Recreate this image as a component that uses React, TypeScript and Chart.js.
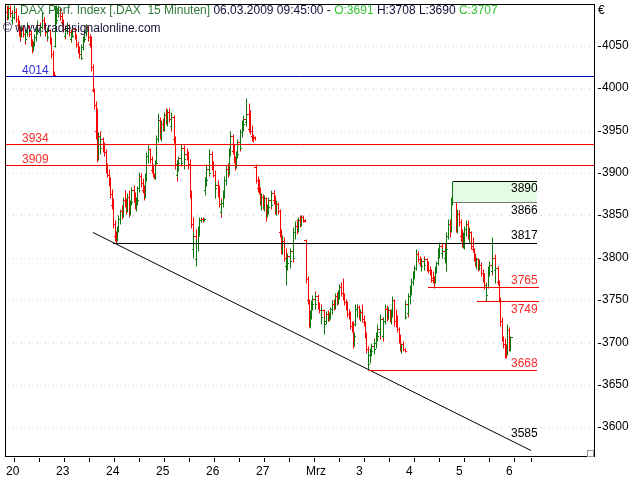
import React, { useEffect, useRef } from 'react';
import { Chart, registerables } from 'chart.js';

Chart.register(...registerables);

// ---------------- data ----------------
const dayLabels = ['20', '23', '24', '25', '26', '27', 'Mrz', '3', '4', '5', '6'];
const barsPerDay = 34;
const midDayOffset = 11;

// 15-minute bars: [open, high, low, close]
const feb20: number[][] = [
  [4080, 4105, 4075, 4090], [4090, 4098, 4080, 4085], [4085, 4105, 4082, 4095], [4095, 4100, 4084, 4088],
  [4088, 4092, 4076, 4080], [4080, 4090, 4076, 4084], [4084, 4100, 4082, 4090], [4090, 4094, 4078, 4082],
  [4082, 4086, 4070, 4075], [4075, 4080, 4062, 4068], [4068, 4072, 4056, 4062], [4062, 4075, 4060, 4070],
  [4070, 4074, 4060, 4064], [4064, 4068, 4052, 4058], [4058, 4070, 4055, 4066], [4066, 4078, 4062, 4072],
  [4072, 4075, 4060, 4064], [4064, 4068, 4050, 4055], [4055, 4058, 4042, 4048], [4048, 4056, 4044, 4052],
  [4052, 4064, 4050, 4060], [4060, 4072, 4056, 4068], [4068, 4080, 4064, 4074], [4074, 4078, 4062, 4066],
  [4066, 4076, 4063, 4072], [4072, 4090, 4070, 4080], [4080, 4084, 4070, 4074], [4074, 4078, 4062, 4066],
  [4066, 4070, 4056, 4060], [4060, 4072, 4058, 4068], [4068, 4070, 4052, 4058], [4058, 4060, 4036, 4040],
  [4040, 4045, 4014, 4016], [4016, 4020, 4014, 4015],
];
const feb23: number[][] = [
  [4050, 4098, 4048, 4080], [4080, 4100, 4076, 4088], [4088, 4106, 4084, 4092], [4092, 4096, 4080, 4085],
  [4085, 4090, 4074, 4078], [4078, 4082, 4066, 4070], [4070, 4074, 4058, 4062], [4062, 4072, 4060, 4068],
  [4068, 4078, 4064, 4074], [4074, 4076, 4062, 4066], [4066, 4070, 4054, 4058], [4058, 4066, 4055, 4062],
  [4062, 4074, 4060, 4070], [4070, 4072, 4058, 4062], [4062, 4064, 4048, 4052], [4052, 4056, 4042, 4046],
  [4046, 4050, 4036, 4040], [4040, 4048, 4034, 4036], [4036, 4052, 4034, 4048], [4048, 4062, 4045, 4058],
  [4058, 4070, 4054, 4066], [4066, 4076, 4062, 4072], [4072, 4074, 4056, 4060], [4060, 4064, 4048, 4052],
  [4052, 4062, 4020, 4025], [4025, 4028, 3995, 3998], [3998, 4000, 3975, 3980], [3980, 3985, 3940, 3950],
  [3950, 3977, 3913, 3920], [3922, 3948, 3915, 3944], [3944, 3950, 3925, 3930], [3930, 3945, 3922, 3940],
  [3940, 3942, 3925, 3934], [3934, 3936, 3920, 3925],
];
const feb24: number[][] = [
  [3925, 3928, 3900, 3905], [3905, 3912, 3895, 3898], [3898, 3905, 3885, 3888], [3888, 3895, 3870, 3875],
  [3875, 3881, 3858, 3862], [3862, 3870, 3835, 3840], [3840, 3845, 3820, 3826], [3826, 3832, 3817, 3822],
  [3822, 3838, 3820, 3835], [3835, 3850, 3830, 3846], [3846, 3858, 3840, 3855], [3855, 3862, 3846, 3850],
  [3850, 3872, 3848, 3868], [3868, 3880, 3860, 3862], [3862, 3870, 3852, 3856], [3856, 3876, 3854, 3872],
  [3872, 3880, 3848, 3852], [3852, 3868, 3850, 3866], [3866, 3884, 3862, 3880], [3880, 3886, 3866, 3870],
  [3870, 3878, 3858, 3862], [3862, 3872, 3855, 3868], [3868, 3885, 3862, 3882], [3882, 3901, 3878, 3896],
  [3896, 3900, 3884, 3888], [3888, 3894, 3876, 3880], [3880, 3886, 3868, 3872], [3872, 3900, 3870, 3896],
  [3896, 3925, 3890, 3920], [3920, 3933, 3912, 3928], [3928, 3930, 3912, 3916], [3916, 3920, 3900, 3904],
  [3904, 3910, 3895, 3898], [3898, 3900, 3893, 3895],
];
const feb25: number[][] = [
  [3895, 3915, 3893, 3912], [3912, 3945, 3910, 3940], [3940, 3971, 3936, 3962], [3962, 3966, 3940, 3946],
  [3946, 3962, 3938, 3958], [3958, 3965, 3950, 3952], [3952, 3972, 3950, 3968], [3968, 3976, 3958, 3962],
  [3962, 3975, 3955, 3972], [3972, 3976, 3960, 3964], [3964, 3968, 3950, 3955], [3955, 3972, 3952, 3966],
  [3966, 3968, 3935, 3940], [3940, 3944, 3905, 3910], [3910, 3915, 3890, 3898], [3898, 3915, 3895, 3912],
  [3912, 3920, 3902, 3918], [3918, 3925, 3908, 3912], [3912, 3934, 3910, 3930], [3930, 3933, 3912, 3916],
  [3916, 3925, 3905, 3922], [3922, 3930, 3915, 3918], [3918, 3926, 3905, 3910], [3910, 3917, 3870, 3875],
  [3875, 3880, 3835, 3840], [3840, 3848, 3804, 3810], [3810, 3832, 3800, 3826], [3826, 3834, 3792, 3798],
  [3798, 3822, 3790, 3818], [3818, 3837, 3808, 3832], [3832, 3848, 3826, 3845], [3845, 3848, 3842, 3846],
  [3846, 3848, 3842, 3845], [3845, 3847, 3843, 3846],
];
const feb26: number[][] = [
  [3880, 3895, 3874, 3892], [3892, 3910, 3885, 3905], [3905, 3915, 3896, 3900], [3900, 3928, 3898, 3922],
  [3922, 3926, 3904, 3908], [3908, 3914, 3895, 3898], [3898, 3903, 3878, 3882], [3882, 3890, 3870, 3886],
  [3886, 3892, 3872, 3876], [3876, 3886, 3860, 3864], [3864, 3870, 3848, 3854], [3854, 3868, 3852, 3865],
  [3865, 3880, 3860, 3876], [3876, 3896, 3870, 3892], [3892, 3909, 3886, 3905], [3905, 3912, 3895, 3900],
  [3900, 3930, 3898, 3926], [3926, 3949, 3920, 3944], [3944, 3946, 3922, 3926], [3926, 3934, 3912, 3916],
  [3916, 3920, 3903, 3908], [3908, 3926, 3906, 3922], [3922, 3940, 3918, 3936], [3936, 3948, 3926, 3930],
  [3930, 3952, 3928, 3948], [3948, 3962, 3942, 3958], [3958, 3968, 3950, 3964], [3964, 3975, 3955, 3960],
  [3960, 3988, 3956, 3970], [3970, 3982, 3948, 3952], [3952, 3974, 3946, 3950], [3950, 3956, 3938, 3944],
  [3944, 3946, 3936, 3942], [3942, 3944, 3939, 3941],
];
const feb27: number[][] = [
  [3907, 3910, 3888, 3892], [3892, 3896, 3878, 3882], [3882, 3893, 3875, 3878], [3878, 3884, 3862, 3866],
  [3866, 3876, 3856, 3872], [3872, 3875, 3858, 3860], [3860, 3874, 3855, 3870], [3870, 3872, 3843, 3850],
  [3850, 3864, 3848, 3860], [3860, 3872, 3852, 3868], [3868, 3874, 3858, 3862], [3862, 3880, 3860, 3876],
  [3876, 3880, 3864, 3868], [3868, 3874, 3852, 3856], [3856, 3868, 3850, 3864], [3864, 3866, 3852, 3855],
  [3855, 3857, 3825, 3830], [3830, 3834, 3805, 3812], [3812, 3827, 3805, 3820], [3820, 3824, 3796, 3800],
  [3800, 3812, 3784, 3790], [3790, 3800, 3768, 3794], [3794, 3806, 3786, 3802], [3802, 3808, 3790, 3796],
  [3796, 3812, 3788, 3808], [3808, 3816, 3795, 3800], [3800, 3836, 3798, 3830], [3830, 3843, 3822, 3838],
  [3838, 3846, 3828, 3834], [3834, 3848, 3830, 3845], [3845, 3850, 3836, 3840], [3840, 3850, 3838, 3848],
  [3848, 3851, 3842, 3844], [3844, 3846, 3842, 3843],
];
const mar02: number[][] = [
  [3821, 3822, 3770, 3775], [3775, 3778, 3745, 3750], [3750, 3752, 3719, 3726], [3726, 3738, 3717, 3734],
  [3734, 3750, 3728, 3746], [3746, 3756, 3738, 3752], [3752, 3761, 3742, 3745], [3745, 3758, 3740, 3755],
  [3755, 3757, 3740, 3744], [3744, 3748, 3735, 3738], [3738, 3745, 3725, 3730], [3730, 3742, 3722, 3738],
  [3738, 3740, 3718, 3722], [3722, 3730, 3710, 3726], [3726, 3737, 3722, 3734], [3734, 3738, 3726, 3730],
  [3730, 3736, 3725, 3733], [3733, 3742, 3728, 3740], [3740, 3750, 3734, 3746], [3746, 3752, 3738, 3742],
  [3742, 3758, 3740, 3755], [3755, 3760, 3744, 3748], [3748, 3762, 3746, 3758], [3758, 3769, 3752, 3765],
  [3765, 3772, 3755, 3758], [3758, 3776, 3750, 3754], [3754, 3758, 3744, 3748], [3748, 3752, 3738, 3742],
  [3742, 3749, 3730, 3734], [3734, 3740, 3728, 3732], [3732, 3737, 3716, 3720], [3720, 3726, 3712, 3716],
  [3716, 3725, 3694, 3700], [3700, 3712, 3696, 3708],
];
const mar03: number[][] = [
  [3722, 3745, 3720, 3740], [3740, 3746, 3730, 3742], [3742, 3744, 3728, 3732], [3732, 3740, 3726, 3736],
  [3736, 3746, 3724, 3728], [3728, 3732, 3720, 3724], [3724, 3726, 3705, 3708], [3708, 3712, 3688, 3692],
  [3692, 3696, 3669, 3675], [3675, 3690, 3668, 3686], [3686, 3694, 3676, 3690], [3690, 3700, 3684, 3696],
  [3696, 3705, 3688, 3692], [3692, 3704, 3687, 3700], [3700, 3712, 3694, 3708], [3708, 3722, 3702, 3716],
  [3716, 3720, 3704, 3712], [3712, 3734, 3708, 3728], [3728, 3730, 3702, 3708], [3708, 3730, 3705, 3726],
  [3726, 3745, 3722, 3740], [3740, 3744, 3726, 3732], [3732, 3742, 3728, 3738], [3738, 3740, 3724, 3728],
  [3728, 3740, 3722, 3736], [3736, 3755, 3730, 3750], [3750, 3752, 3720, 3726], [3726, 3740, 3718, 3722],
  [3722, 3732, 3712, 3716], [3716, 3718, 3700, 3704], [3704, 3710, 3690, 3694], [3694, 3700, 3688, 3698],
  [3698, 3702, 3690, 3692], [3692, 3694, 3689, 3690],
];
const mar04: number[][] = [
  [3730, 3750, 3728, 3745], [3745, 3752, 3730, 3735], [3735, 3758, 3732, 3755], [3755, 3768, 3745, 3762],
  [3762, 3776, 3756, 3772], [3772, 3785, 3768, 3780], [3780, 3792, 3775, 3788], [3788, 3810, 3786, 3805],
  [3805, 3808, 3795, 3798], [3798, 3802, 3790, 3794], [3794, 3800, 3786, 3790], [3790, 3798, 3785, 3796],
  [3796, 3802, 3788, 3792], [3792, 3800, 3786, 3798], [3798, 3800, 3784, 3788], [3788, 3796, 3782, 3786],
  [3786, 3790, 3780, 3782], [3782, 3787, 3772, 3776], [3776, 3784, 3770, 3774], [3774, 3778, 3764, 3772],
  [3772, 3790, 3770, 3788], [3788, 3796, 3782, 3794], [3794, 3812, 3792, 3808], [3808, 3819, 3800, 3814],
  [3814, 3817, 3804, 3806], [3806, 3812, 3800, 3808], [3808, 3818, 3796, 3800], [3800, 3812, 3794, 3810],
  [3810, 3831, 3784, 3826], [3826, 3846, 3822, 3840], [3840, 3846, 3825, 3832], [3832, 3872, 3830, 3868],
  [3868, 3891, 3862, 3884], [3884, 3889, 3870, 3878],
];
const mar05: number[][] = [
  [3866, 3866, 3831, 3836], [3836, 3857, 3829, 3852], [3852, 3856, 3838, 3842], [3842, 3846, 3820, 3826],
  [3826, 3834, 3813, 3818], [3818, 3830, 3812, 3828], [3828, 3838, 3810, 3834], [3834, 3845, 3826, 3840],
  [3840, 3845, 3822, 3826], [3826, 3836, 3817, 3830], [3830, 3832, 3810, 3814], [3814, 3825, 3807, 3810],
  [3810, 3812, 3796, 3800], [3800, 3806, 3790, 3794], [3794, 3801, 3787, 3798], [3798, 3800, 3784, 3788],
  [3788, 3798, 3786, 3792], [3792, 3795, 3778, 3782], [3782, 3787, 3772, 3776], [3776, 3782, 3763, 3768],
  [3768, 3772, 3751, 3756], [3756, 3770, 3749, 3766], [3766, 3790, 3764, 3786], [3786, 3796, 3778, 3792],
  [3792, 3800, 3780, 3784], [3784, 3824, 3782, 3800], [3800, 3804, 3782, 3786], [3786, 3792, 3770, 3788],
  [3788, 3790, 3768, 3772], [3772, 3774, 3748, 3752], [3752, 3754, 3720, 3726], [3726, 3730, 3702, 3706],
  [3706, 3708, 3694, 3698], [3698, 3705, 3682, 3690],
];
const mar06: number[][] = [
  [3695, 3698, 3682, 3688], [3688, 3722, 3686, 3715], [3715, 3718, 3690, 3691], [3691, 3708, 3690, 3707],
];

// horizontal levels
const fullWidthLevels = [4014, 3934, 3909];
const zoneLevels = [3890, 3866];
const partialLevels = [3817, 3765, 3749, 3668];
const partialFrom = [73, 287, 320, 247];
const partialTo = [361, 362, 362, 361];
const zoneFrom = 304;
const zoneTo = 361;
const trendX = [59, 357];
const trendY = [3831, 3573];
const trendLabel = 3585;
const yTickValues = [3600, 3650, 3700, 3750, 3800, 3850, 3900, 3950, 4000, 4050];

const titleParts = ['DAX Perf. Index [.DAX  15 Minuten]', ' 06.03.2009 09:45:00', ' - ', 'O:3691', ' H:3708 L:3690 ', 'C:3707'];
const copyright = '\u00A9 www.tradesignalonline.com';

// ---------------- styling ----------------
const GREEN = '#0a780a';
const RED = '#ff0000';
const FONT = '"Liberation Sans", Arial, sans-serif';
const X_MIN = -0.5;
const X_MAX = 399.5;

export default function App() {
  const ref = useRef<HTMLCanvasElement | null>(null);

  useEffect(() => {
    const canvas = ref.current;
    if (!canvas) return;

    const bars = [feb20, feb23, feb24, feb25, feb26, feb27, mar02, mar03, mar04, mar05, mar06].flat();
    const isUp = bars.map((b) => b[3] >= b[0]);
    const colors = isUp.map((u) => (u ? GREEN : RED));
    const upData = bars.map((b, i) => ({ x: i, y: isUp[i] ? [b[2], b[1]] : null }));
    const downData = bars.map((b, i) => ({ x: i, y: isUp[i] ? null : [b[2], b[1]] }));
    const openData = bars.map((b, i) => ({ x: i - 0.5, y: b[0] }));
    const closeData = bars.map((b, i) => ({ x: i + 0.5, y: b[3] }));

    const xTicks: number[] = [];
    const xTickText: Record<number, string> = {};
    dayLabels.forEach((lab, d) => {
      const v = d * barsPerDay;
      xTicks.push(v, v + midDayOffset);
      xTickText[v] = lab;
    });

    const line = (pts: { x: number; y: number }[], color: string, extra: any = {}) => ({
      type: 'line' as const,
      data: pts,
      borderColor: color,
      borderWidth: 1,
      pointRadius: 0,
      fill: false,
      tension: 0,
      order: 0,
      ...extra,
    });

    const levelColors: Record<number, string> = { 4014: '#0000c0', 3934: RED, 3909: RED };
    const partialColors = ['#000000', RED, RED, RED];

    const datasets: any[] = [];
    fullWidthLevels.forEach((v) => {
      datasets.push(line([{ x: X_MIN, y: v }, { x: X_MAX, y: v }], levelColors[v]));
    });
    datasets.push(
      line([{ x: zoneFrom, y: zoneLevels[0] }, { x: zoneTo, y: zoneLevels[0] }], '#000000', {
        fill: '+1',
        backgroundColor: '#e4fbe4',
      })
    );
    datasets.push(line([{ x: zoneFrom, y: zoneLevels[1] }, { x: zoneTo, y: zoneLevels[1] }], '#000000'));
    partialLevels.forEach((v, k) => {
      datasets.push(line([{ x: partialFrom[k], y: v }, { x: partialTo[k], y: v }], partialColors[k]));
    });
    datasets.push(line([{ x: trendX[0], y: trendY[0] }, { x: trendX[1], y: trendY[1] }], '#000000'));

    const tickDs = (data: any[]) => ({
      type: 'scatter' as const,
      data,
      pointStyle: 'line',
      pointRadius: 1,
      pointBorderWidth: 1,
      pointBorderColor: colors,
      pointBackgroundColor: colors,
      showLine: false,
      order: 5,
    });
    datasets.push(tickDs(openData));
    datasets.push(tickDs(closeData));
    const barDs = (data: any[], color: string) => ({
      type: 'bar' as const,
      data,
      backgroundColor: color,
      borderWidth: 0,
      barThickness: 1,
      inflateAmount: 0,
      order: 10,
    });
    datasets.push(barDs(upData, GREEN));
    datasets.push(barDs(downData, RED));

    const labelDefs = [
      { text: '4014', value: 4014, side: 'left', dy: -2, color: '#3030e0' },
      { text: '3934', value: 3934, side: 'left', dy: -2, color: '#ff2a2a' },
      { text: '3909', value: 3909, side: 'left', dy: -2, color: '#ff2a2a' },
      { text: '3890', value: 3890, side: 'right', dy: 11, color: '#000000' },
      { text: '3866', value: 3866, side: 'right', dy: 12, color: '#000000' },
      { text: '3817', value: 3817, side: 'right', dy: -4, color: '#000000' },
      { text: '3765', value: 3765, side: 'right', dy: -3, color: '#ff2a2a' },
      { text: '3749', value: 3749, side: 'right', dy: 12, color: '#ff2a2a' },
      { text: '3668', value: 3668, side: 'right', dy: -3, color: '#ff2a2a' },
      { text: String(trendLabel), value: trendLabel, side: 'right', dy: -3, color: '#000000' },
    ];
    const titleColors = ['#2f7a3a', '#10103a', '#10103a', '#33c433', '#10103a', '#33c433'];

    // shift dataset drawing half a pixel down so 1px horizontal strokes land on pixel rows
    const crisp = {
      id: 'crisp',
      beforeDatasetsDraw(chart: any) {
        chart.ctx.save();
        chart.ctx.translate(0, 0.5);
      },
      afterDatasetsDraw(chart: any) {
        chart.ctx.restore();
      },
    };

    const overlay = {
      id: 'overlay',
      afterDraw(chart: any) {
        const { ctx, chartArea: ca, scales } = chart;
        const ys = scales.y;
        const xs = scales.x;
        ctx.save();
        ctx.strokeStyle = '#000';
        ctx.lineWidth = 1;
        ctx.setLineDash([]);
        ctx.strokeRect(ca.left + 0.5, ca.top - 0.5, ca.right - ca.left, ca.bottom - ca.top - 1);

        ctx.font = '12px ' + FONT;
        ctx.textBaseline = 'alphabetic';
        ctx.textAlign = 'left';
        let tx = 20;
        titleParts.forEach((t, k) => {
          ctx.fillStyle = titleColors[k];
          ctx.fillText(t, tx, 14);
          tx += ctx.measureText(t).width;
        });
        ctx.fillStyle = '#14143a';
        ctx.fillText(copyright, 3, 32);

        const rightX = xs.getPixelForValue(343);
        labelDefs.forEach((l) => {
          const py = ys.getPixelForValue(l.value) + l.dy;
          ctx.fillStyle = l.color;
          ctx.fillText(l.text, l.side === 'left' ? ca.left + 17 : rightX, py);
        });

        ctx.fillStyle = '#000';
        ctx.fillText('\u20AC', ca.right + 4, 14);

        ctx.strokeStyle = '#999';
        ctx.strokeRect(ca.right - 6.5, ca.bottom - 7.5, 6, 6);
        ctx.restore();
      },
    };

    const chart = new Chart(canvas, {
      type: 'bar',
      data: { datasets },
      options: {
        animation: false,
        responsive: false,
        events: [],
        layout: { padding: { left: 1, top: 2, right: 0, bottom: 0 } },
        plugins: {
          legend: { display: false },
          tooltip: { enabled: false },
          title: { display: false },
        },
        scales: {
          x: {
            type: 'linear',
            min: X_MIN,
            max: X_MAX,
            offset: false,
            alignToPixels: true,
            afterBuildTicks: (s: any) => {
              s.ticks = xTicks.map((v) => ({ value: v }));
            },
            afterFit: (s: any) => {
              s.height = 22;
              s.paddingLeft = 0;
              s.paddingRight = 0;
              s.paddingTop = 0;
              s.paddingBottom = 0;
            },
            grid: {
              display: true,
              drawOnChartArea: false,
              drawTicks: true,
              tickLength: 4,
              tickColor: '#000',
              tickWidth: 1,
              tickBorderDash: [],
            },
            border: { display: false },
            ticks: {
              autoSkip: false,
              maxRotation: 0,
              minRotation: 0,
              align: 'start',
              padding: 2,
              color: '#000',
              font: { family: FONT, size: 12 },
              callback: (v: any) => xTickText[v as number] ?? '',
            },
          },
          y: {
            type: 'linear',
            position: 'right',
            min: 3564,
            max: 4098,
            alignToPixels: true,
            afterBuildTicks: (s: any) => {
              s.ticks = yTickValues.map((v) => ({ value: v }));
            },
            afterFit: (s: any) => {
              s.width = 46;
              s.paddingLeft = 0;
              s.paddingRight = 0;
              s.paddingTop = 0;
              s.paddingBottom = 0;
            },
            grid: {
              display: true,
              drawOnChartArea: true,
              color: '#c4c4c4',
              lineWidth: 1,
              drawTicks: true,
              tickLength: 7,
              tickColor: '#000',
              tickWidth: 1,
              tickBorderDash: [0, 4, 3, 60],
            },
            border: { display: false, dash: [1, 7] },
            ticks: {
              padding: 1,
              color: '#000',
              font: { family: FONT, size: 12 },
              callback: (v: any) => String(v),
            },
          },
        },
      } as any,
      plugins: [crisp, overlay],
    });

    return () => chart.destroy();
  }, []);

  return (
    <div style={{ position: 'fixed', left: 0, top: 0, width: 640, height: 480, background: '#ffffff' }}>
      <canvas ref={ref} width={640} height={480} style={{ display: 'block' }} />
    </div>
  );
}
